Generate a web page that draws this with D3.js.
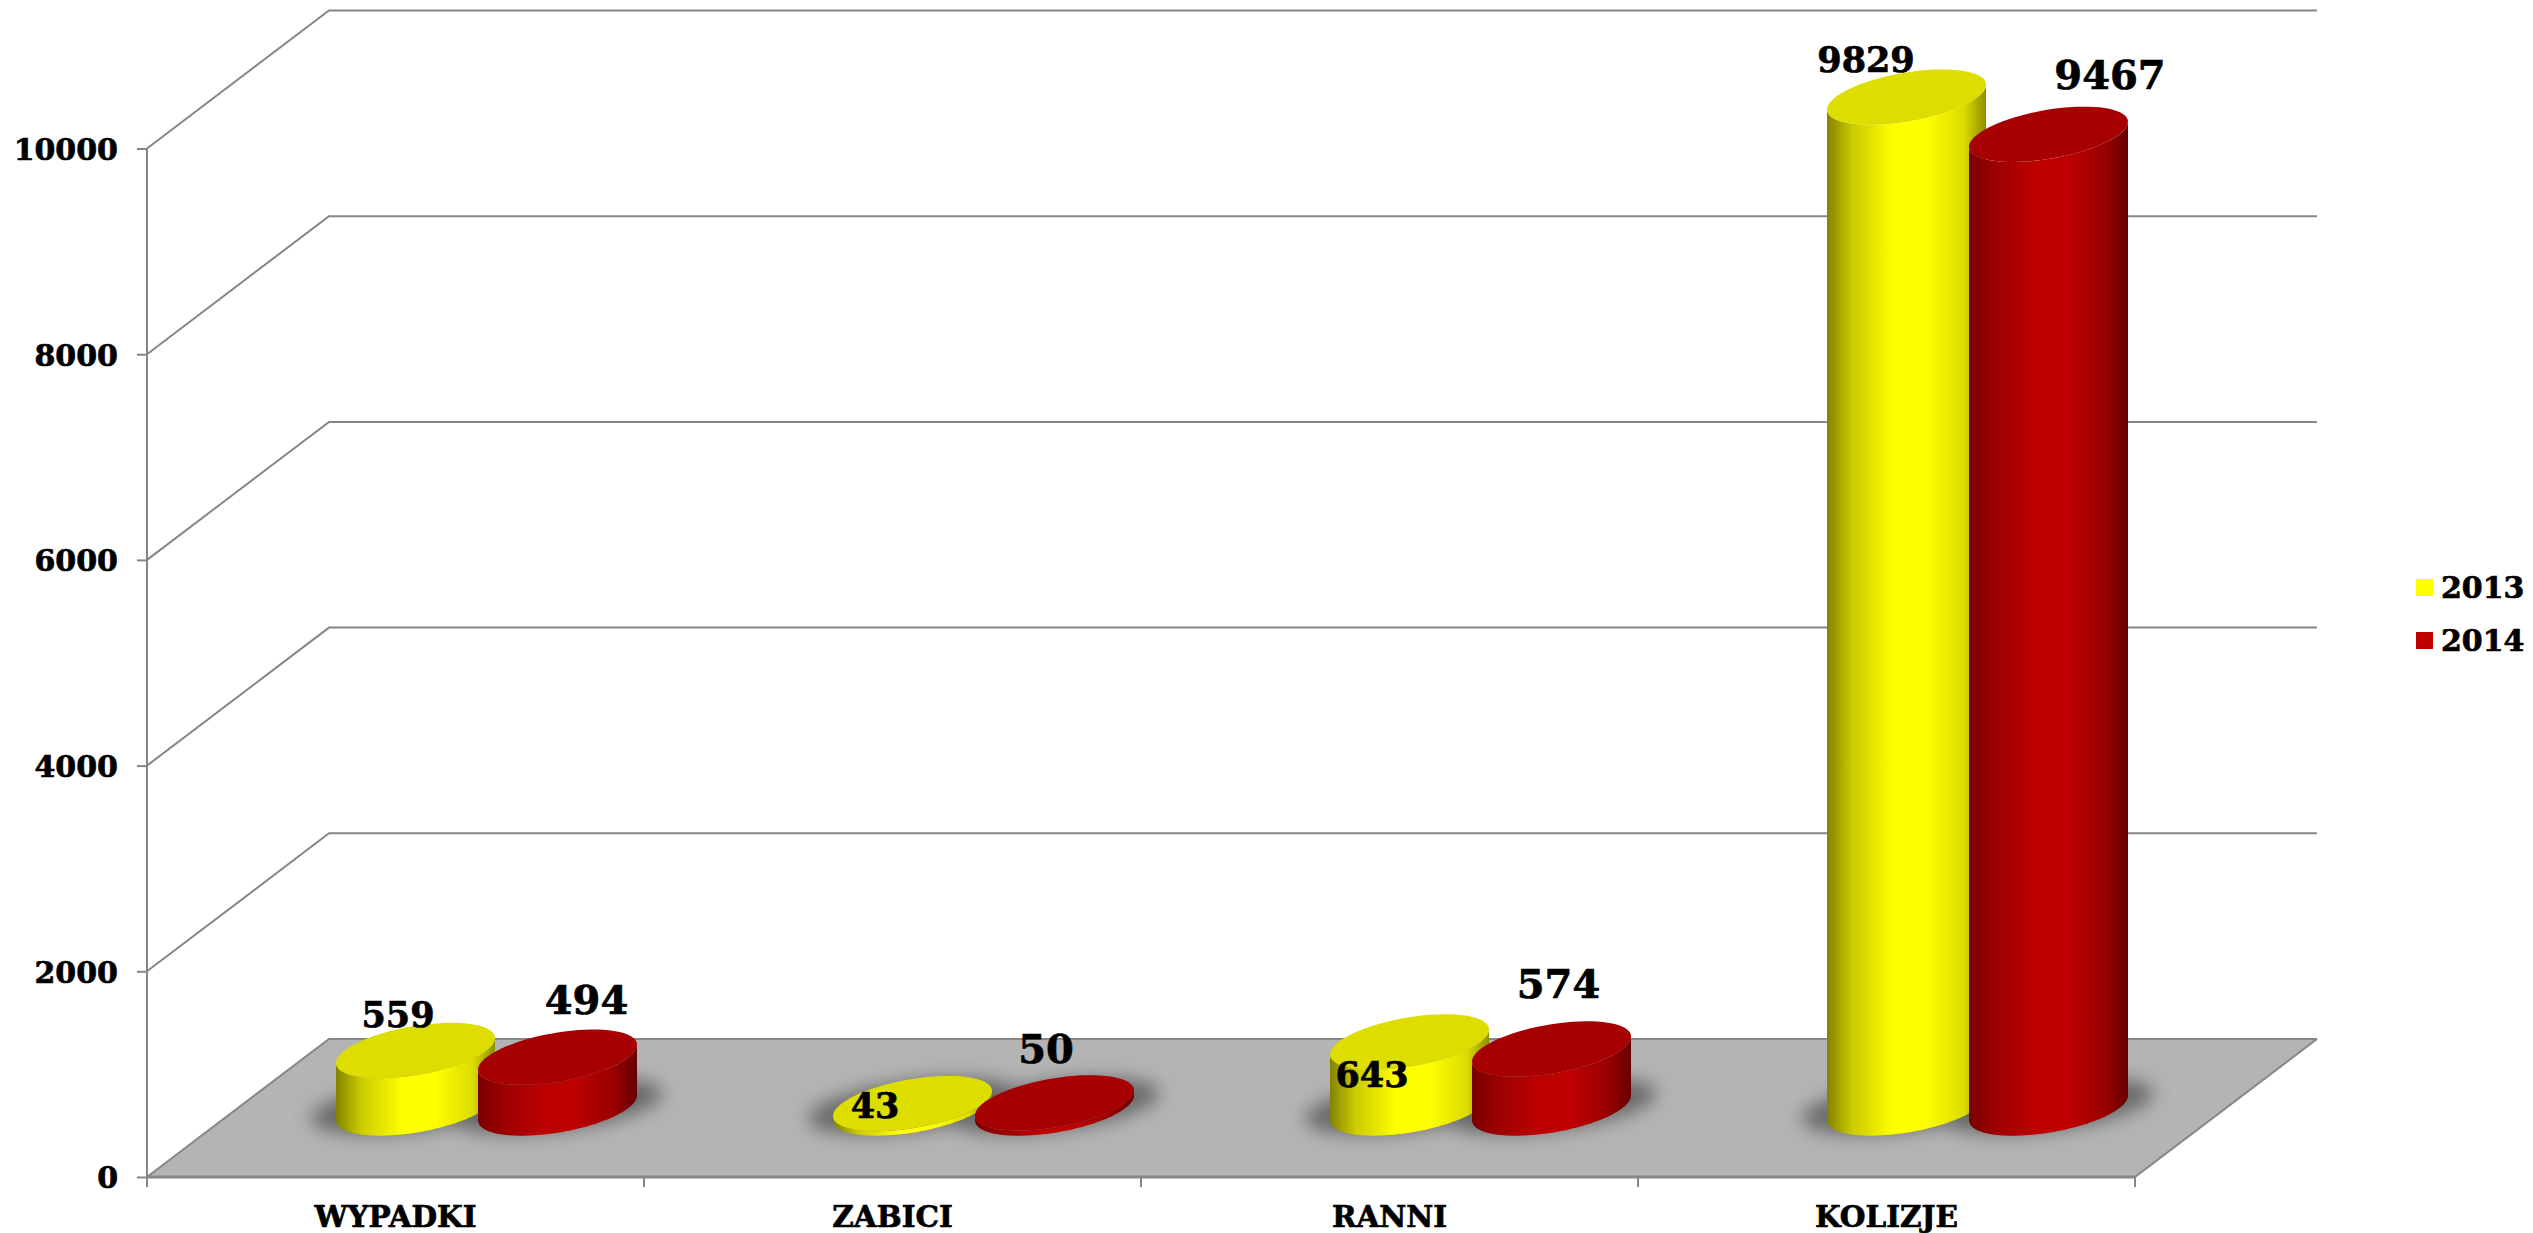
<!DOCTYPE html>
<html>
<head>
<meta charset="utf-8">
<script src="https://cdn.jsdelivr.net/npm/d3@7"></script>
<style>
html,body{margin:0;padding:0;background:#fff;overflow:hidden}
text{font-family:"DejaVu Serif";font-weight:bold;fill:#000;stroke:#000;stroke-width:0.7px}
</style>
</head>
<body>
<svg id="chart" width="2533" height="1233"></svg>
<script>
// ---- data ----
const categories = ["WYPADKI", "ZABICI", "RANNI", "KOLIZJE"];
const seriesNames = ["2013", "2014"];
const values2013 = [559, 43, 643, 9829];
const values2014 = [494, 50, 574, 9467];
const yTicks = [0, 2000, 4000, 6000, 8000, 10000];

// ---- layout ----
const W = 2533, H = 1233;
const plot = {left: 147, right: 2135, bottom: 1177, top: 148.5};
const depth = {dx: 182, dy: -138};
const cyl = {rx: 79.5, skew: 12.5, c: 24.7, spread: 71};
const colors = {
  "2013": {swatch:"#ffff00", top:"#dddd00", stops:[[0,"#838300"],[.16,"#cbcb00"],[.42,"#ffff00"],[.62,"#ffff00"],[.86,"#dcdc00"],[1,"#8f8f00"]]},
  "2014": {swatch:"#c00000", top:"#a60000", stops:[[0,"#7a0000"],[.16,"#9c0000"],[.42,"#bd0000"],[.62,"#bd0000"],[.86,"#980000"],[1,"#660000"]]}
};
const lineColor = "#868686";
// hand-placed data label anchors, relative to the top of each cylinder: [dx, dy]
const labelNudge = {
  "2013": [[-17.5, -23.5], [-37.5, 14.4], [-37.5, 44.8], [-40.5, -24.7]],
  "2014": [[29, -43], [-8.5, -40], [7, -51], [61.5, -45]]
};
const labelSize = {"2013": 35, "2014": 40};

// ---- scales ----
const x = d3.scaleBand().domain(categories).range([plot.left, plot.right]);
const xSeries = d3.scalePoint().domain(seriesNames).range([-cyl.spread, cyl.spread]);
const y = d3.scaleLinear().domain([0, 10000]).range([plot.bottom, plot.top]);
const seriesValues = {"2013": values2013, "2014": values2014};

const svg = d3.select("#chart");
const defs = svg.append("defs");

seriesNames.forEach(s => {
  const g = defs.append("linearGradient").attr("id", "grad" + s)
    .attr("x1", 0).attr("x2", 1).attr("y1", 0).attr("y2", 0);
  colors[s].stops.forEach(([o, c]) => g.append("stop").attr("offset", o).attr("stop-color", c));
});
defs.append("filter").attr("id", "shadowBlur")
  .attr("filterUnits", "userSpaceOnUse").attr("x", 0).attr("y", 0).attr("width", W).attr("height", H)
  .append("feGaussianBlur").attr("stdDeviation", 9);

// ---- floor ----
const fl = [
  [plot.left, plot.bottom],
  [plot.right, plot.bottom],
  [plot.right + depth.dx, plot.bottom + depth.dy],
  [plot.left + depth.dx, plot.bottom + depth.dy]
];
defs.append("clipPath").attr("id", "floorClip").append("polygon").attr("points", fl.join(" "));
svg.append("polygon").attr("points", fl.join(" ")).attr("fill", "#b4b4b4");

// ---- walls / gridlines ----
const wall = svg.append("g").attr("fill", "none").attr("stroke", lineColor).attr("stroke-width", 2);
yTicks.forEach(t => {
  const yy = y(t);
  wall.append("path").attr("d", d3.line()([
    [plot.left, yy],
    [plot.left + depth.dx, yy + depth.dy],
    [plot.right + depth.dx, yy + depth.dy]
  ]));
});
// floor edges
wall.append("path").attr("d", d3.line()([fl[0], fl[1], fl[2]]));
wall.append("path").attr("d", d3.line()([fl[0], fl[1]])).attr("stroke-width", 3);

// ---- axes ----
const yAxis = d3.axisLeft(y).tickValues(yTicks).tickSize(10).tickPadding(19).tickFormat(d3.format("d"));
const gy = svg.append("g").attr("transform", `translate(${plot.left},0)`).call(yAxis);
gy.selectAll("path,line").attr("stroke", lineColor).attr("stroke-width", 2);
gy.select(".domain").attr("d", `M0,${plot.top}V${plot.bottom}`);
gy.selectAll("text").attr("font-size", 30).attr("font-family", "DejaVu Serif").attr("font-weight", "bold").attr("fill", "#000").attr("dy", "0.36em");

const gx = svg.append("g").attr("transform", `translate(0,${plot.bottom})`);
const edges = d3.range(categories.length + 1).map(i => plot.left + i * x.step());
gx.selectAll("line").data(edges).join("line")
  .attr("x1", d => d).attr("x2", d => d).attr("y1", 0).attr("y2", 10)
  .attr("stroke", lineColor).attr("stroke-width", 2);
gx.selectAll("text").data(categories).join("text")
  .attr("x", d => x(d) + x.bandwidth() / 2).attr("y", 49.5)
  .attr("text-anchor", "middle").attr("font-size", 29.5).text(d => d);

// ---- cylinders ----
function ellipsePts(cx, cy, from, to, sx = 1, sy = 1) {
  const n = 72;
  return d3.range(n + 1).map(i => {
    const t = from + (to - from) * i / n;
    return [cx + sx * cyl.rx * Math.cos(t),
            cy + sy * (-cyl.skew * Math.cos(t) + cyl.c * Math.sin(t))];
  });
}
const line = d3.line();
const marks = [];
seriesNames.forEach(s => categories.forEach((c, i) => {
  const v = seriesValues[s][i];
  const cx = x(c) + x.bandwidth() / 2 + xSeries(s) + depth.dx / 2;
  const base = y(0) + depth.dy / 2;
  const topY = y(v) + depth.dy / 2;
  marks.push({s, c, i, v, cx, base, topY});
}));

// shadows
const shadows = svg.append("g").attr("clip-path", "url(#floorClip)")
  .append("g").attr("filter", "url(#shadowBlur)");
marks.forEach(m => {
  shadows.append("path")
    .attr("d", line(ellipsePts(m.cx, m.base - 2, 0, 2 * Math.PI, 1.32, 1.02)) + "Z")
    .attr("fill", "#666666").attr("fill-opacity", 0.95);
});

// bodies and tops
seriesNames.forEach(s => {
  const g = svg.append("g");
  marks.filter(m => m.s === s).forEach(m => {
    const bottom = ellipsePts(m.cx, m.base, Math.PI, 0);
    const top = ellipsePts(m.cx, m.topY, 0, Math.PI);
    g.append("path").attr("d", line(bottom.concat(top)) + "Z").attr("fill", `url(#grad${s})`);
    g.append("path").attr("d", line(ellipsePts(m.cx, m.topY, 0, 2 * Math.PI)) + "Z").attr("fill", colors[s].top);
  });
});

// data labels
marks.forEach(m => {
  const [dx, dy] = labelNudge[m.s][m.i];
  svg.append("text").attr("x", m.cx + dx).attr("y", m.topY + dy)
    .attr("text-anchor", "middle").attr("font-size", labelSize[m.s]).text(m.v);
});

// ---- legend ----
const legendY = d3.scalePoint().domain(seriesNames).range([579, 632]);
const lg = svg.append("g");
seriesNames.forEach(s => {
  lg.append("rect").attr("x", 2416).attr("y", legendY(s)).attr("width", 17).attr("height", 17).attr("fill", colors[s].swatch);
  lg.append("text").attr("x", 2441).attr("y", legendY(s) + 18.5).attr("font-size", 30).text(s);
});
</script>
</body>
</html>
